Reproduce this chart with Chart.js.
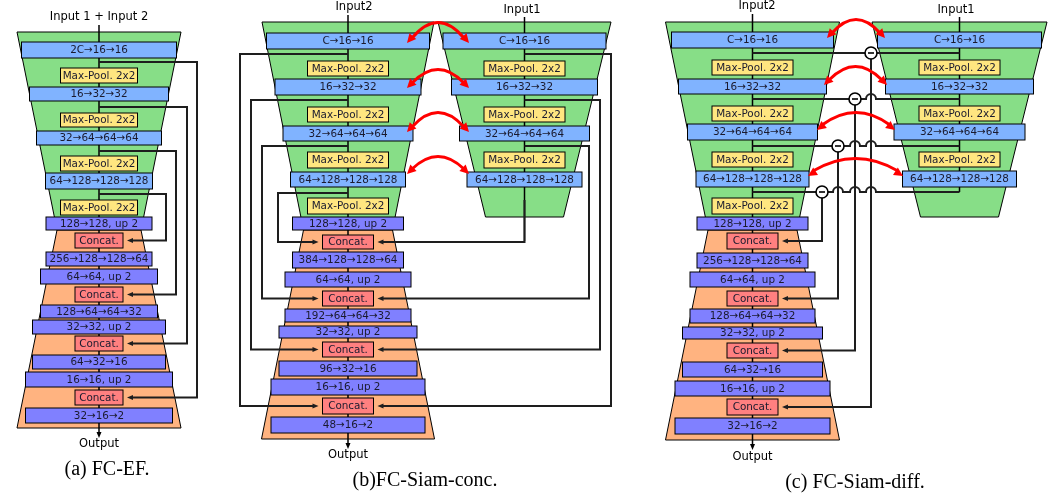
<!DOCTYPE html>
<html>
<head>
<meta charset="utf-8">
<script src="https://cdn.jsdelivr.net/npm/chart.js@4.4.0/dist/chart.umd.min.js"></script>
<style>
  html, body { margin: 0; padding: 0; background: #fff; }
  #wrap { width: 1049px; height: 495px; }
</style>
</head>
<body>
<div id="wrap"><canvas id="chart"></canvas></div>
<script>
// layer labels for the three networks
const efEncoder = ['2C→16→16', '16→32→32', '32→64→64→64', '64→128→128→128'];
const siamEncoder = ['C→16→16', '16→32→32', '32→64→64→64', '64→128→128→128'];
const poolLabel = 'Max-Pool. 2x2';
const concatLabel = 'Concat.';
const upLabels = ['128→128, up 2', '64→64, up 2', '32→32, up 2', '16→16, up 2'];
const efDecoder = ['256→128→128→64', '128→64→64→32', '64→32→16', '32→16→2'];
const concDecoder = ['384→128→128→64', '192→64→64→32', '96→32→16', '48→16→2'];
const diffDecoder = ['256→128→128→64', '128→64→64→32', '64→32→16', '32→16→2'];
const inputTitles = ['Input 1 + Input 2', 'Input2', 'Input1', 'Input2', 'Input1'];
const outputLabel = 'Output';
const captions = ['(a) FC-EF.', '(b)FC-Siam-conc.', '(c) FC-Siam-diff.'];

const W = 1049, H = 495;

// colours
const GREEN = '#87de87', ORANGE = '#ffb380', BLUE = '#80b3ff',
      YELLOW = '#ffe680', PURPLE = '#8080ff', RED = '#ff8080';

// layout of each stack (diagram units = pixels of the reference)
const stackA = {
    cx: 99, lineTop: 25, outY: 428, outTextY: 444,
    green: [32, 82, 230, 42], orange: [230, 42, 428, 82],
    enc: [[42, 58, 77.5], [87, 101, 69.5], [131, 145, 62.5], [173, 189, 53.5]],
    pool: [[68, 83], [113, 127], [156, 171], [200, 215]], poolHw: 38.5,
    up: [[217, 230, 53], [269, 284, 58.5], [320, 334, 66.5], [372, 387, 73.5]],
    cat: [[233, 248], [287, 302], [336, 351], [390, 405]], catHw: 24,
    dec: [[252, 266, 53], [305, 318, 58.5], [355, 369, 66.5], [408, 423, 73.5]],
    encLabels: efEncoder, decLabels: efDecoder
};
const stackB = {
    cx: 348, lineTop: 15, outY: 439, outTextY: 455,
    green: [22, 86, 230, 44.5], orange: [230, 44.5, 439, 86.5],
    enc: [[33, 49, 81.5], [79, 95, 73], [126, 141, 65], [172, 187, 57.5]],
    pool: [[61, 76], [107, 122], [152, 168], [198, 214]], poolHw: 40.5,
    up: [[217, 230, 55.5], [272, 287, 63], [326, 338, 69], [379, 395, 77]],
    cat: [[235, 249], [291, 306], [342, 357], [398, 414]], catHw: 25.5,
    dec: [[252, 268, 55.5], [309, 322, 63], [361, 376, 69], [417, 433, 77]],
    encLabels: siamEncoder, decLabels: concDecoder
};
const stackBR = {
    cx: 524.5, lineTop: 17, lineBottom: 241,
    green: [22, 86.5, 217, 39],
    enc: [[33, 49, 81.5], [79, 95, 73], [126, 141, 65], [172, 187, 57.5]],
    pool: [[61, 76], [107, 122], [152, 168]], poolHw: 40.5,
    encLabels: siamEncoder
};
const stackC = {
    cx: 752.5, lineTop: 14, outY: 440, outTextY: 457,
    green: [22, 87, 230, 44.5], orange: [230, 44.5, 440, 87],
    enc: [[32, 48, 81], [79, 94, 74], [124, 140, 65], [171, 187, 56.5]],
    pool: [[60, 75], [106, 121], [152, 167], [198, 214]], poolHw: 40.5,
    up: [[217, 230, 55.5], [272, 287, 62.5], [327, 339, 70], [381, 396, 77.5]],
    cat: [[233, 249], [291, 306], [343, 358], [399, 415]], catHw: 25.5,
    dec: [[253, 268, 55.5], [309, 323, 62.5], [362, 377, 70], [418, 434, 77.5]],
    encLabels: siamEncoder, decLabels: diffDecoder
};
const stackCR = {
    cx: 959.5, lineTop: 17, lineBottom: 192,
    green: [22, 87.5, 217, 39],
    enc: [[32, 48, 82], [79, 94, 74], [124, 140, 65.5], [171, 187, 57]],
    pool: [[60, 75], [106, 121], [152, 167]], poolHw: 40.5,
    encLabels: siamEncoder
};

const diagramPlugin = {
    id: 'diagram',
    afterDraw(chart) {
        const ctx = chart.ctx;
        const X = v => chart.scales.x.getPixelForValue(v);
        const Y = v => chart.scales.y.getPixelForValue(v);
        ctx.save();
        ctx.lineJoin = 'miter';

        function trap(cx, t, fill) {
            ctx.beginPath();
            ctx.moveTo(X(cx - t[1]), Y(t[0]));
            ctx.lineTo(X(cx + t[1]), Y(t[0]));
            ctx.lineTo(X(cx + t[3]), Y(t[2]));
            ctx.lineTo(X(cx - t[3]), Y(t[2]));
            ctx.closePath();
            ctx.fillStyle = fill;
            ctx.fill();
            ctx.lineWidth = 1;
            ctx.strokeStyle = '#000';
            ctx.stroke();
        }
        function path(pts, lw, color) {
            ctx.beginPath();
            pts.forEach((p, i) => i ? ctx.lineTo(X(p[0]), Y(p[1])) : ctx.moveTo(X(p[0]), Y(p[1])));
            ctx.lineWidth = lw;
            ctx.strokeStyle = color;
            ctx.stroke();
        }
        function head(x, y, dx, dy, len, wid, color) {
            const n = Math.hypot(dx, dy), ux = dx / n, uy = dy / n;
            const bx = x - ux * len, by = y - uy * len;
            ctx.beginPath();
            ctx.moveTo(X(x), Y(y));
            ctx.lineTo(X(bx - uy * wid / 2), Y(by + ux * wid / 2));
            ctx.lineTo(X(bx + uy * wid / 2), Y(by - ux * wid / 2));
            ctx.closePath();
            ctx.fillStyle = color;
            ctx.fill();
        }
        function label(txt, x, y, font, color) {
            ctx.font = font;
            ctx.fillStyle = color || '#111';
            ctx.textAlign = 'center';
            ctx.textBaseline = 'middle';
            ctx.fillText(txt, X(x), Y(y));
        }
        function box(cx, y0, y1, hw, fill, txt) {
            ctx.fillStyle = fill;
            ctx.fillRect(X(cx - hw), Y(y0), X(cx + hw) - X(cx - hw), Y(y1) - Y(y0));
            ctx.lineWidth = 1;
            ctx.strokeStyle = '#000';
            ctx.strokeRect(X(cx - hw), Y(y0), X(cx + hw) - X(cx - hw), Y(y1) - Y(y0));
            label(txt, cx, (y0 + y1) / 2 + 0.5, '10.4px "DejaVu Sans"', '#1a1a2e');
        }
        function arc(x0, x1, y0, peak) {
            const mx = (x0 + x1) / 2;
            const cy = 2 * peak - y0;
            ctx.beginPath();
            ctx.moveTo(X(x0 + 5), Y(y0 - 5));
            ctx.quadraticCurveTo(X(mx), Y(cy), X(x1 - 5), Y(y0 - 5));
            ctx.lineWidth = 3;
            ctx.strokeStyle = '#f00';
            ctx.stroke();
            head(x0, y0, x0 - mx, y0 - cy, 9, 9, '#f00');
            head(x1, y0, x1 - mx, y0 - cy, 9, 9, '#f00');
        }
        function stackBase(s) {
            trap(s.cx, s.green, GREEN);
            if (s.orange) trap(s.cx, s.orange, ORANGE);
            const bottom = s.outY || s.lineBottom;
            path([[s.cx, s.lineTop], [s.cx, bottom]], 1.5, '#000');
            if (s.outY) {
                path([[s.cx, s.outY], [s.cx, s.outY + 5]], 1.5, '#000');
                head(s.cx, s.outY + 10, 0, 1, 6, 5, '#000');
                label(outputLabel, s.cx, s.outTextY, '11.5px "DejaVu Sans"', '#000');
            }
        }
        function stackBoxes(s) {
            s.enc.forEach((r, i) => box(s.cx, r[0], r[1], r[2], BLUE, s.encLabels[i]));
            s.pool.forEach(r => box(s.cx, r[0], r[1], s.poolHw, YELLOW, poolLabel));
            if (s.up) {
                s.up.forEach((r, i) => box(s.cx, r[0], r[1], r[2], PURPLE, upLabels[i]));
                s.cat.forEach(r => box(s.cx, r[0], r[1], s.catHw, RED, concatLabel));
                s.dec.forEach((r, i) => box(s.cx, r[0], r[1], r[2], PURPLE, s.decLabels[i]));
            }
        }
        const catMid = (s, i) => (s.cat[3 - i][0] + s.cat[3 - i][1]) / 2;
        const SK = '#1e1e1e';

        // (a) FC-EF
        stackBase(stackA);
        [[62, 197], [107, 187], [151, 176], [194, 166]].forEach((k, i) => {
            const my = catMid(stackA, i), tip = stackA.cx + stackA.catHw + 4;
            path([[stackA.cx, k[0]], [k[1], k[0]], [k[1], my], [tip + 5, my]], 2, SK);
            head(tip, my, -1, 0, 6, 5, SK);
        });
        stackBoxes(stackA);
        label(inputTitles[0], 99, 17, '11.5px "DejaVu Sans"', '#000');
        label(captions[0], 107, 470, '20px "Liberation Serif"', '#000');

        // (b) FC-Siam-conc
        stackBase(stackB);
        stackBase(stackBR);
        [[54, 240], [100, 251], [146, 262], [193, 278]].forEach((k, i) => {
            const my = catMid(stackB, i), tip = stackB.cx - stackB.catHw - 4;
            path([[stackB.cx, k[0]], [k[1], k[0]], [k[1], my], [tip - 5, my]], 2, SK);
            head(tip, my, 1, 0, 6, 5, SK);
        });
        [[54, 611], [100, 600], [146, 589], [null, stackBR.cx]].forEach((k, i) => {
            const my = catMid(stackB, i), tip = stackB.cx + stackB.catHw + 4;
            const pts = k[0] === null ? [[k[1], 200], [k[1], my], [tip + 5, my]]
                                      : [[stackBR.cx, k[0]], [k[1], k[0]], [k[1], my], [tip + 5, my]];
            path(pts, 2, SK);
            head(tip, my, -1, 0, 6, 5, SK);
        });
        stackBoxes(stackB);
        stackBoxes(stackBR);
        label(inputTitles[1], 354, 7, '11.5px "DejaVu Sans"', '#000');
        label(inputTitles[2], 522, 10, '11.5px "DejaVu Sans"', '#000');
        label(captions[1], 425, 481, '20px "Liberation Serif"', '#000');
        [[43, 25], [88, 72], [132, 115], [174, 159]].forEach(a => arc(407, 469, a[0], a[1]));

        // (c) FC-Siam-diff
        stackBase(stackC);
        stackBase(stackCR);
        const diffY = [53, 99, 146, 192], diffX = [871, 855, 838, 822];
        diffY.forEach((y, i) => {
            const cxm = diffX[i];
            const hops = diffX.slice(0, i).filter(h => h > cxm).sort((a, b) => a - b);
            ctx.beginPath();
            ctx.moveTo(X(stackC.cx), Y(y));
            hops.forEach(h => {
                ctx.lineTo(X(h - 5), Y(y));
                ctx.arc(X(h), Y(y), X(h + 5) - X(h), Math.PI, 0, false);
            });
            ctx.lineTo(X(stackCR.cx), Y(y));
            ctx.lineWidth = 2;
            ctx.strokeStyle = SK;
            ctx.stroke();
            const my = catMid(stackC, i), tip = stackC.cx + stackC.catHw + 4;
            path([[cxm, y], [cxm, my], [tip + 5, my]], 2, SK);
            head(tip, my, -1, 0, 6, 5, SK);
        });
        diffY.forEach((y, i) => {
            const r = X(diffX[i] + 6) - X(diffX[i]);
            ctx.beginPath();
            ctx.arc(X(diffX[i]), Y(y), r, 0, Math.PI * 2);
            ctx.fillStyle = '#fff';
            ctx.fill();
            ctx.lineWidth = 1.6;
            ctx.strokeStyle = '#000';
            ctx.stroke();
            path([[diffX[i] - 3, y], [diffX[i] + 3, y]], 1.6, '#000');
        });
        stackBoxes(stackC);
        stackBoxes(stackCR);
        label(inputTitles[3], 757, 6, '11.5px "DejaVu Sans"', '#000');
        label(inputTitles[4], 956, 10, '11.5px "DejaVu Sans"', '#000');
        label(captions[2], 855, 483, '20px "Liberation Serif"', '#000');
        [[827, 885, 38, 22], [824, 887, 85, 69], [817, 895, 130, 115], [808, 903, 176, 161]]
            .forEach(a => arc(a[0], a[1], a[2], a[3]));

        ctx.restore();
    }
};

new Chart(document.getElementById('chart').getContext('2d'), {
    type: 'scatter',
    data: { datasets: [{ data: [], showLine: false }] },
    options: {
        responsive: true,
        maintainAspectRatio: false,
        animation: false,
        layout: { padding: 0 },
        plugins: { legend: { display: false }, tooltip: { enabled: false } },
        scales: {
            x: { type: 'linear', min: 0, max: W, display: false },
            y: { type: 'linear', min: 0, max: H, reverse: true, display: false }
        }
    },
    plugins: [diagramPlugin]
});
</script>
</body>
</html>
